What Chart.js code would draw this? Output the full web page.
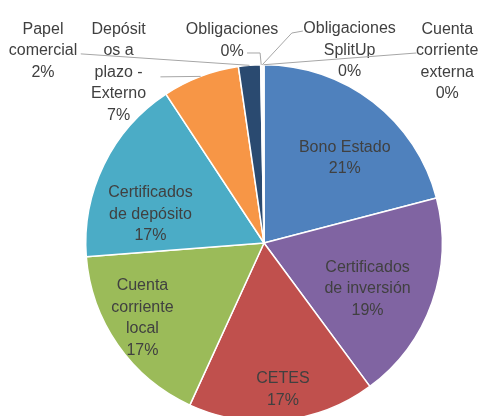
<!DOCTYPE html>
<html>
<head>
<meta charset="utf-8">
<script src="https://cdn.jsdelivr.net/npm/chart.js@4.4.1/dist/chart.umd.min.js"></script>
<style>
  html, body { margin: 0; padding: 0; background: #fff; overflow: hidden; }
  canvas { display: block; }
</style>
</head>
<body>
<canvas id="myChart" width="481" height="422"></canvas>
<script>
const categories = [
  "Bono Estado",
  "Certificados de inversión",
  "CETES",
  "Cuenta corriente local",
  "Certificados de depósito",
  "Depósitos a plazo - Externo",
  "Papel comercial",
  "Obligaciones",
  "Obligaciones SplitUp",
  "Cuenta corriente externa"
];
const shares = [21, 19, 17, 17, 17, 7, 2, 0.1, 0.1, 0.1];
const sliceColors = [
  "#4F81BD", "#8064A2", "#C0504D", "#9BBB59", "#4BACC6",
  "#F79646", "#2A4A70", "#772C2A", "#5F7530", "#4D3B62"
];

// label text broken the way the original wraps it
const labelLines = [
  ["Bono Estado"],
  ["Certificados", "de inversión"],
  ["CETES"],
  ["Cuenta", "corriente", "local"],
  ["Certificados", "de depósito"],
  ["Depósit", "os a", "plazo -", "Externo"],
  ["Papel", "comercial"],
  ["Obligaciones"],
  ["Obligaciones", "SplitUp"],
  ["Cuenta", "corriente", "externa"]
];

// label centre, in pie radii from the pie centre
const labelPos = [
  [0.453, -0.475], [0.581, 0.258], [0.106, 0.822], [-0.682, 0.422], [-0.637, -0.162],
  [-0.816, -0.958], [-1.240, -1.078], [-0.179, -1.136], [0.480, -1.080], [1.028, -1.019]
];
// leader line points (same units), the line ends on the slice edge
const leaders = [
  null, null, null, null, null,
  [[-0.581, -0.932]],
  [[-1.028, -1.061]],
  [[-0.095, -1.066], [-0.022, -1.066]],
  [[0.218, -1.189], [0.156, -1.178]],
  [[0.855, -1.066]]
];

const pieLabels = {
  id: "pieLabels",
  afterDatasetsDraw(chart) {
    const ctx = chart.ctx;
    const meta = chart.getDatasetMeta(0);
    const vals = chart.data.datasets[0].data;
    const total = vals.reduce((a, b) => a + b, 0);
    const lineH = 21.5;
    ctx.save();
    meta.data.forEach((arc, i) => {
      const R = arc.outerRadius;
      const cx = arc.x, cy = arc.y;
      if (leaders[i]) {
        const mid = (arc.startAngle + arc.endAngle) / 2;
        ctx.beginPath();
        ctx.strokeStyle = "#a6a6a6";
        ctx.lineWidth = 1;
        leaders[i].forEach((p, k) => {
          const px = cx + p[0] * R, py = cy + p[1] * R;
          if (k === 0) ctx.moveTo(px, py); else ctx.lineTo(px, py);
        });
        ctx.lineTo(cx + Math.cos(mid) * R, cy + Math.sin(mid) * R);
        ctx.stroke();
      }
      const lines = labelLines[i].concat([Math.round(vals[i] / total * 100) + "%"]);
      const x = cx + labelPos[i][0] * R;
      const y0 = cy + labelPos[i][1] * R - (lines.length - 1) * lineH / 2;
      ctx.font = "16px 'Liberation Sans', Arial, sans-serif";
      ctx.fillStyle = "#404040";
      ctx.textAlign = "center";
      ctx.textBaseline = "middle";
      lines.forEach((t, k) => ctx.fillText(t, x, y0 + k * lineH));
    });
    ctx.restore();
  }
};

new Chart(document.getElementById("myChart"), {
  type: "pie",
  data: {
    labels: categories,
    datasets: [{
      data: shares,
      backgroundColor: sliceColors,
      borderColor: "#ffffff",
      borderWidth: 1.5
    }]
  },
  options: {
    responsive: false,
    animation: false,
    layout: { padding: { left: 85, right: 38, top: 64, bottom: 0 } },
    plugins: {
      legend: { display: false },
      tooltip: { enabled: false }
    }
  },
  plugins: [pieLabels]
});
</script>
</body>
</html>
